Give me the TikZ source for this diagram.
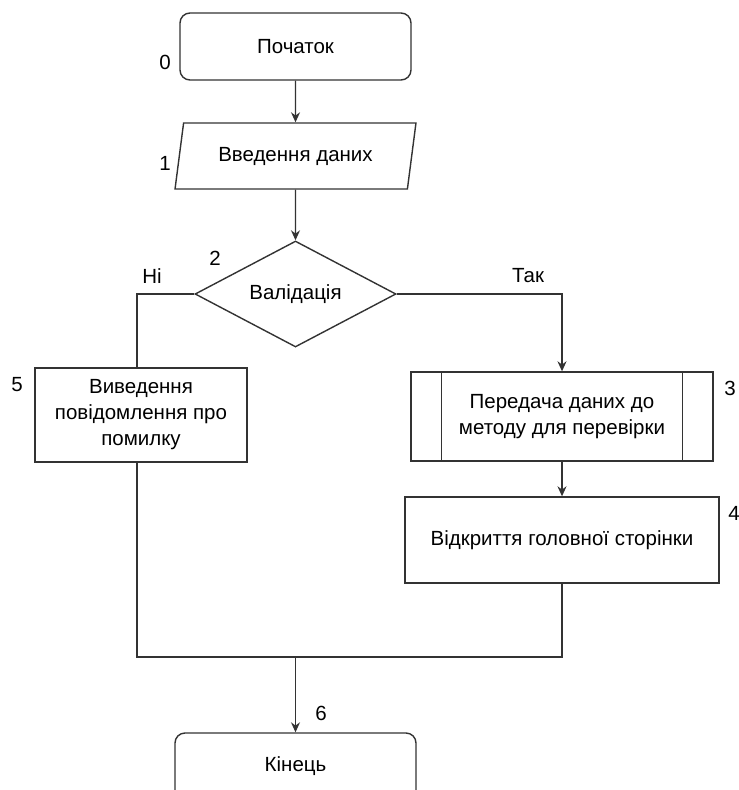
\documentclass[tikz,border=0pt]{standalone}
\usepackage{fontspec}
\setmainfont{Liberation Sans}
\usetikzlibrary{shapes.geometric, arrows.meta}

\tikzset{
	base/.style = {draw=black!80, line width=1.4pt, fill=white, align=center,
		inner sep=0pt, font=\fontsize{20.5}{26}\selectfont},
	terminal/.style = {base, rounded corners=10pt, minimum width=231pt, minimum height=67pt},
	io/.style = {base, trapezium, trapezium left angle=72, trapezium right angle=108,
		trapezium stretches, minimum width=241pt, minimum height=66pt},
	decision/.style = {base, diamond, aspect=2, minimum width=201pt, minimum height=106pt},
	process/.style = {base, rectangle},
	num/.style = {font=\fontsize{20.5}{24}\selectfont, inner sep=0pt},
	link/.style = {draw=black!80, line width=1.4pt},
	arr/.style = {link, -{Stealth[length=10pt, width=9pt]}}
}

\begin{document}
	\begin{tikzpicture}[x=1pt, y=-1pt]
		\useasboundingbox (0,0) rectangle (739,790);
		
		% blocks
		\node[terminal] (start) at (295.5,46.5) {Початок};
		\node[io] (input) at (295.5,156) {Введення даних};
		\node[decision] (valid) at (295.5,294) {Валідація};
		\node[process, minimum width=212pt, minimum height=94pt] (err) at (141,415)
			{Виведення\\повідомлення про\\помилку};
		\node[process, minimum width=302pt, minimum height=89pt] (send) at (562,416.5)
			{Передача даних до\\методу для перевірки};
		\draw[link] ([xshift=31pt]send.north west) -- ([xshift=31pt]send.south west);
		\draw[link] ([xshift=-31pt]send.north east) -- ([xshift=-31pt]send.south east);
		\node[process, minimum width=314pt, minimum height=86pt] (open) at (562,540)
			{Відкриття головної сторінки};
		\node[terminal, minimum width=241pt] (finish) at (295.5,766.5) {Кінець};
		
		% numbers
		\node[num] (n0) at (165,62) {0};
		\node[num] (n1) at (165,163) {1};
		\node[num] (n2) at (215,258) {2};
		\node[num] (n3) at (730,388) {3};
		\node[num] (n4) at (734,513) {4};
		\node[num] (n5) at (17,385) {5};
		\node[num] (n6) at (321,713) {6};
		
		% connectors
		\coordinate (merge) at (295.5,657);
		\draw[arr] (start) -- (input);
		\draw[arr] (input) -- (valid);
		\draw[link] (valid.west) -| ([xshift=-4pt]err.north);
		\draw[arr] (valid.east) -| (send.north);
		\draw[arr] (send) -- (open);
		\draw[link] ([xshift=-4pt]err.south) |- (merge) -| (open.south);
		\draw[arr] (merge) -- (finish);
		
		\node[num] (no) at (152,276) {Ні};
		\node[num] (yes) at (528,276) {Так};
	\end{tikzpicture}
\end{document}
